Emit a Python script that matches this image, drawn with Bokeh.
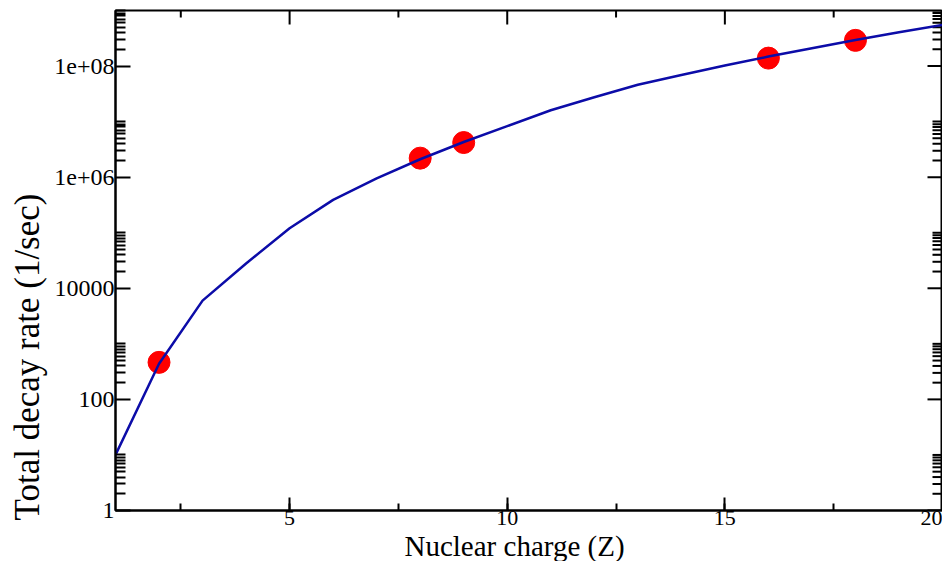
import numpy as np
from bokeh.plotting import figure
from bokeh.models import (FixedTicker, SingleIntervalTicker, CustomJSTickFormatter,
                          Title, Range1d, ColumnDataSource)
from bokeh.embed import file_html
from bokeh.resources import INLINE

# ---- data ----
z_curve = [1, 2, 3, 4, 5, 6, 7, 8, 9, 10, 11, 12, 13, 14, 15, 16, 17, 18, 19, 20]
rate_curve = [10, 437, 6.0e3, 2.8e4, 1.2e5, 3.9e5, 9.5e5, 2.1e6, 4.3e6, 8.3e6,
              1.6e7, 2.75e7, 4.6e7, 6.9e7, 1.02e8, 1.48e8, 2.09e8, 2.95e8, 4.07e8, 5.5e8]

z_points = [2, 8, 9, 16, 18]
rate_points = [464, 2.2e6, 4.2e6, 1.39e8, 2.9e8]

x_start, x_end = 1, 20
y_start, y_end = 1, 1e9

x_major = [5, 10, 15]
x_minor = [2.5, 7.5, 12.5, 17.5]
y_ticks = [1, 100, 1e4, 1e6, 1e8]
y_tick_labels = ["1", "100", "10000", "1e+06", "1e+08"]
y_minor_mult = [2, 3, 4, 5, 6, 7, 8, 9, 10]
y_minor = [m * t for t in y_ticks for m in y_minor_mult]

FONT = "Liberation Serif"

p = figure(width=942, height=561, x_range=Range1d(x_start, x_end),
           y_range=Range1d(y_start, y_end),
           y_axis_type="log", output_backend="svg", toolbar_location=None,
           min_border_left=113, min_border_top=10, min_border_right=0, min_border_bottom=0)
p.xgrid.visible = False
p.ygrid.visible = False
p.outline_line_color = "black"
p.outline_line_width = 2
p.background_fill_color = "white"
p.border_fill_color = "white"

yfmt = CustomJSTickFormatter(args=dict(vals=y_ticks, labs=y_tick_labels), code="""
for (let i = 0; i < vals.length; i++) {
  if (Math.abs(Math.log10(vals[i]) - Math.log10(tick)) < 1e-6) return labs[i];
}
return "";
""")

def style_axis(ax, major_in, minor_in, size):
    ax.axis_line_color = "black"
    ax.axis_line_width = 2
    ax.major_tick_line_color = "black"
    ax.major_tick_line_width = 2
    ax.minor_tick_line_color = "black"
    ax.minor_tick_line_width = 2
    ax.major_tick_in = major_in
    ax.major_tick_out = 0
    ax.minor_tick_in = minor_in
    ax.minor_tick_out = 0
    ax.major_label_text_font = FONT
    ax.major_label_text_color = "black"
    ax.major_label_text_font_size = size

# left axis
ly = p.yaxis[0]
ly.ticker = FixedTicker(ticks=y_ticks, minor_ticks=y_minor)
ly.formatter = yfmt
style_axis(ly, 15, 10, "24px")
ly.major_label_standoff = 1

# bottom axis
bx = p.xaxis[0]
bx.ticker = SingleIntervalTicker(interval=5, num_minor_ticks=2)
style_axis(bx, 13, 7, "22px")
bx.major_label_standoff = 0

# x label as a bottom title, placed slightly left of centre as in the reference
xtitle = Title(text="Nuclear charge (Z)", align="left", text_font=FONT,
               text_font_size="29px", text_font_style="normal", text_color="black",
               standoff=0, offset=289)
p.add_layout(xtitle, "below")

# y label as a left title aligned to the bottom
ytitle = Title(text="Total decay rate (1/sec)", align="left", text_font=FONT,
               text_font_size="35px", text_font_style="normal", text_color="black",
               offset=-10)
p.add_layout(ytitle, "left")

# inward ticks on the right and top frame edges (clipped to the frame)
p.scatter([x_end] * len(y_ticks), y_ticks, marker="dash", size=30,
          line_color="black", line_width=2)
p.scatter([x_end] * len(y_minor), y_minor, marker="dash", size=20,
          line_color="black", line_width=2)
p.scatter(x_major, [y_end] * len(x_major), marker="dash", angle=np.pi / 2, size=28,
          line_color="black", line_width=2)
p.scatter(x_minor, [y_end] * len(x_minor), marker="dash", angle=np.pi / 2, size=14,
          line_color="black", line_width=2)

pts = ColumnDataSource(dict(z=z_points, r=rate_points))
p.scatter("z", "r", source=pts, size=22, fill_color="#ff0000", line_color="#ff0000")

cur = ColumnDataSource(dict(z=z_curve, r=rate_curve))
p.line("z", "r", source=cur, line_color="#0c0ca8", line_width=2.5)

open("out.html", "w").write(file_html(p, INLINE))
